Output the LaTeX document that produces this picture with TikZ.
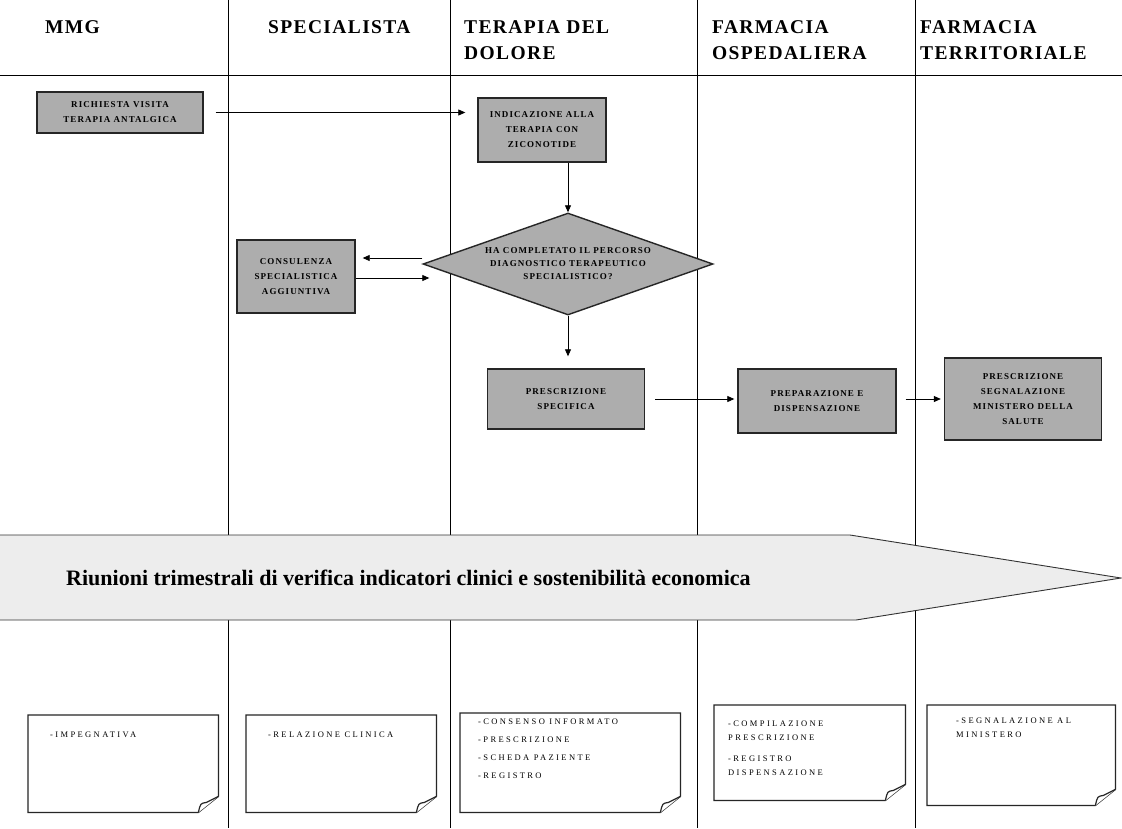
\documentclass[tikz,border=0pt]{standalone}
\usepackage{fontspec}
\setmainfont{Liberation Serif}
\usetikzlibrary{shapes.geometric,arrows.meta}
\begin{document}
\begin{tikzpicture}[x=1pt,y=-1pt,
 proc/.style={draw=black!85, line width=1.4pt, fill=black!32, font=\bfseries\fontsize{9}{15}\selectfont\addfontfeature{LetterSpace=12}, align=center, inner sep=0pt},
 arr/.style={-{Triangle[length=7pt,width=6pt]}, line width=0.8pt},
 lane/.style={line width=0.8pt},
 hdr/.style={font=\bfseries\fontsize{19.5}{26}\selectfont\addfontfeature{LetterSpace=7}, anchor=north west, align=left, inner sep=0pt},
 noteframe/.style={anchor=north west, inner sep=0pt, draw=none},
 notetext/.style={anchor=north west, inner sep=0pt, align=left, font=\fontsize{8.5}{14}\selectfont\addfontfeature{LetterSpace=28}},
 noteline/.style={line width=1.2pt, draw=black!85, fill=white}
]
\useasboundingbox (0,0) rectangle (1122,828);
\fill[white] (0,0) rectangle (1122,828);

% lanes
\draw[lane] (0,75) -- (1122,75);
\foreach \x in {228,450,697,915} \draw[lane] (\x,0) -- (\x,828);

% headers
\node[hdr] (h1) at (45,20) {MMG};
\node[hdr] (h2) at (268,20) {SPECIALISTA};
\node[hdr] (h3) at (464,20) {TERAPIA DEL\\DOLORE};
\node[hdr] (h4) at (712,20) {FARMACIA\\OSPEDALIERA};
\node[hdr] (h5) at (920,20) {FARMACIA\\TERRITORIALE};

% process boxes
\node[proc, minimum width=166pt, minimum height=41pt] (b1) at (120,112.5) {RICHIESTA VISITA\\TERAPIA ANTALGICA};
\node[proc, minimum width=128pt, minimum height=64pt] (b2) at (542,130) {INDICAZIONE ALLA\\TERAPIA CON\\ZICONOTIDE};
\node[proc, diamond, aspect=2.84, minimum width=290pt, minimum height=102pt, font=\bfseries\fontsize{9}{13}\selectfont\addfontfeature{LetterSpace=12}] (dia) at (568,264) {HA COMPLETATO IL PERCORSO\\DIAGNOSTICO TERAPEUTICO\\SPECIALISTICO?};
\node[proc, minimum width=118pt, minimum height=73pt] (cons) at (296,276.5) {CONSULENZA\\SPECIALISTICA\\AGGIUNTIVA};
\node[proc, minimum width=157pt, minimum height=60pt] (pres) at (566,399) {PRESCRIZIONE\\SPECIFICA};
\node[proc, minimum width=158pt, minimum height=64pt] (prep) at (817,401) {PREPARAZIONE E\\DISPENSAZIONE};
\node[proc, minimum width=157pt, minimum height=82pt] (seg) at (1023,399) {PRESCRIZIONE\\SEGNALAZIONE\\MINISTERO DELLA\\SALUTE};

% connectors
\draw[arr, shorten <=12pt, shorten >=12pt] (b1.east) -- (b1.east -| b2.west);
\draw[arr] (b2.south -| dia.north) -- (dia.north);
\draw[arr] ([yshift=6pt]dia.west) -- ([xshift=7pt,yshift=18.5pt]cons.east);
\draw[arr] ([yshift=-1.5pt]cons.east) -- ([xshift=7pt,yshift=-14pt]dia.west);
\draw[arr, shorten >=12pt] (dia.south) -- (dia.south |- pres.north);
\draw[arr, shorten <=10pt, shorten >=3pt] (pres.east) -- (pres.east -| prep.west);
\draw[arr, shorten <=9pt, shorten >=3pt] (prep.east |- seg.west) -- (seg.west);

% big arrow
\draw[line width=0.9pt, draw=black!80, fill=black!7] (-2,535) -- (850,535) -- (1121,578) -- (856,620) -- (-2,620) -- cycle;
\node[font=\bfseries\fontsize{22}{24}\selectfont, anchor=west, inner sep=0pt] (riun) at (66,578) {Riunioni trimestrali di verifica indicatori clinici e sostenibilità economica};

% notes
\foreach \n/\x/\y/\w/\h in {n1/28/715/190/97, n2/246/715/190/97, n3/460/713/220/99, n4/714/705/191/95, n5/927/705/188/100}{
  \node[noteframe, minimum width=\w pt, minimum height=\h pt] (\n) at (\x,\y) {};
  \draw[noteline] (\n.north west) -- (\n.north east) -- ([yshift=16pt]\n.south east)
     -- ([xshift=-20pt]\n.south east) -- (\n.south west) -- cycle;
  \draw[noteline] ([xshift=-20pt]\n.south east) .. controls ([xshift=-18pt,yshift=9pt]\n.south east) .. ([xshift=-12pt,yshift=10pt]\n.south east)
     -- ([yshift=16pt]\n.south east);
}
\node[notetext] (t1) at (50,732) {-IMPEGNATIVA};
\node[notetext] (t2) at (268,732) {-RELAZIONE CLINICA};
\node[notetext] (t3) at (478,719) {-CONSENSO INFORMATO\\[4pt]-PRESCRIZIONE\\[4pt]-SCHEDA PAZIENTE\\[4pt]-REGISTRO};
\node[notetext] (t4) at (728,721) {-COMPILAZIONE\\PRESCRIZIONE\\[7pt]-REGISTRO\\DISPENSAZIONE};
\node[notetext] (t5) at (956,718) {-SEGNALAZIONE AL\\MINISTERO};
\end{tikzpicture}
\end{document}
